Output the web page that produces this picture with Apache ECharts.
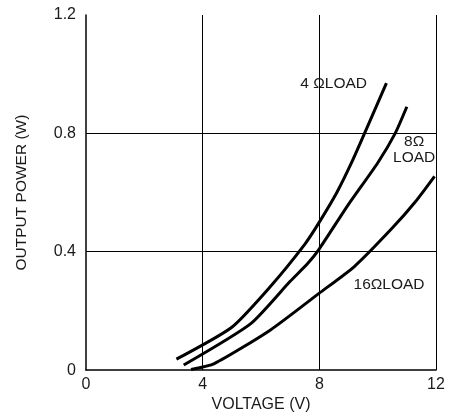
<!DOCTYPE html>
<html>
<head>
<meta charset="utf-8">
<script src="https://cdn.jsdelivr.net/npm/echarts@6/dist/echarts.min.js"></script>
<style>
    html, body { margin: 0; padding: 0; background: #fff; }
    #chart { width: 453px; height: 418px; }
</style>
</head>
<body>
<div id="chart"></div>
<script>
// 数据 - voltage (V) vs output power (W)
const xTicks = [0, 4, 8, 12]
const yTicks = [0, 0.4, 0.8, 1.2]

const load4 = [[3.1, 0.037], [5.0, 0.145], [6.3, 0.28], [7.5, 0.425], [8.0, 0.5], [8.6, 0.6], [9.1, 0.7], [9.55, 0.8], [10.3, 0.97]]
const load8 = [[3.35, 0.017], [5.65, 0.157], [7.0, 0.3], [7.6, 0.36], [8.0, 0.41], [9.0, 0.56], [10.0, 0.7], [10.6, 0.8], [11.0, 0.89]]
const load16 = [[3.6, 0.002], [4.4, 0.022], [6.3, 0.134], [8.0, 0.26], [9.2, 0.35], [10.5, 0.48], [11.3, 0.57], [11.95, 0.655]]

// 曲线标注 (name, x, y)
const notes = [
    ['4 ΩLOAD', 8.49, 0.969],
    ['8Ω\nLOAD', 11.25, 0.744],
    ['16ΩLOAD', 10.39, 0.288]
]

const chart = echarts.init(document.getElementById('chart'))
const font = 'Liberation Sans, Arial, sans-serif'
const ink = '#1a1a1a'

function lineSeries(name, data, note) {
    return {
        name: name,
        type: 'line',
        data: data,
        symbol: 'none',
        smooth: 0.2,
        lineStyle: { color: '#000', width: 3 },
        markPoint: {
            silent: true,
            symbol: 'circle',
            symbolSize: 0,
            label: {
                show: true,
                position: 'inside',
                formatter: '{b}',
                color: ink,
                fontFamily: font,
                fontSize: 15.5,
                lineHeight: 16,
                align: 'center'
            },
            data: [{ name: note[0], coord: [note[1], note[2]] }]
        }
    }
}

const option = {
    animation: false,
    grid: { left: 86, right: 17, top: 15, bottom: 47 },
    xAxis: {
        type: 'value',
        min: xTicks[0],
        max: xTicks[xTicks.length - 1],
        interval: 4,
        name: 'VOLTAGE (V)',
        nameLocation: 'middle',
        nameGap: 23,
        nameTextStyle: { color: ink, fontFamily: font, fontSize: 16 },
        axisLine: { show: true, lineStyle: { color: '#000', width: 1.5 } },
        axisTick: { show: false },
        axisLabel: { color: ink, fontFamily: font, fontSize: 16, margin: 6 },
        splitLine: { show: true, showMinLine: false, showMaxLine: true, lineStyle: { color: '#000', width: 1 } }
    },
    yAxis: {
        type: 'value',
        min: yTicks[0],
        max: yTicks[yTicks.length - 1],
        interval: 0.4,
        name: 'OUTPUT POWER (W)',
        nameLocation: 'middle',
        nameGap: 56,
        nameTextStyle: { color: ink, fontFamily: font, fontSize: 15.5 },
        axisLine: { show: true, lineStyle: { color: '#000', width: 1.5 } },
        axisTick: { show: false },
        axisLabel: { color: ink, fontFamily: font, fontSize: 16, margin: 10 },
        splitLine: { show: true, showMinLine: false, showMaxLine: false, lineStyle: { color: '#000', width: 1 } }
    },
    series: [
        lineSeries('4Ω', load4, notes[0]),
        lineSeries('8Ω', load8, notes[1]),
        lineSeries('16Ω', load16, notes[2])
    ]
}
chart.setOption(option)
</script>
</body>
</html>
